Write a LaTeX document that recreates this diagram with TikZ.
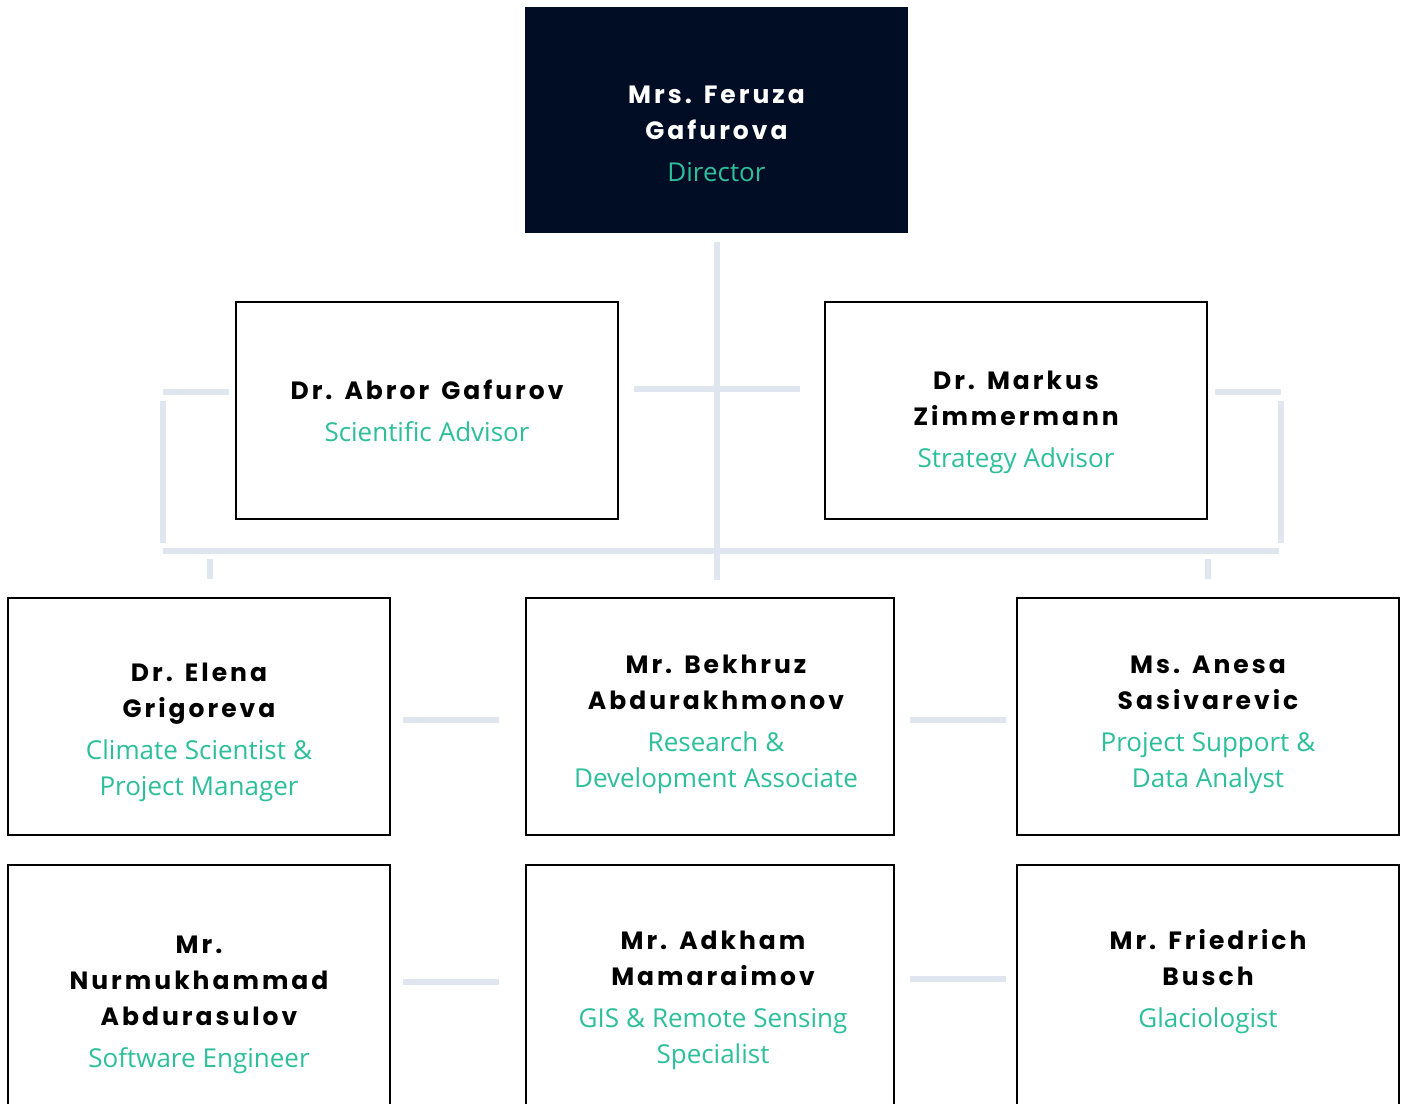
\documentclass[tikz,border=0pt]{standalone}
\usepackage{fontspec}
\setmainfont{Poppins}
\newfontfamily\namefont{Poppins}[LetterSpace=12]
\newfontfamily\rolefont{Open Sans}
\usetikzlibrary{positioning, calc}
\definecolor{navy}{HTML}{000D24}
\definecolor{teal}{HTML}{2DBF9B}
\definecolor{linkgray}{HTML}{DFE6EF}
% name, then role
\newcommand{\who}[2]{\frenchspacing{\namefont\bfseries\fontsize{25}{36}\selectfont\spaceskip=12pt\relax #1\par}\vspace{6pt}{\rolefont\fontsize{26}{36}\selectfont\spaceskip=7pt\relax\color{teal}#2\par}}
\tikzset{
  person/.style={draw=black, line width=2pt, fill=white, minimum width=#1, minimum height=237, inner sep=0pt},
  head/.style={fill=navy, minimum width=383, minimum height=226, inner sep=0pt},
  tag/.style={text width=360, align=center, inner sep=0pt},
  link/.style={draw=linkgray, line width=6pt, line cap=butt},
}

\begin{document}
\begin{tikzpicture}[x=1pt, y=-1pt]
    \useasboundingbox (0,0) rectangle (1405,1103);
    \clip (0,0) rectangle (1405,1103);
    % top
    \node[head] (dir) at (716.5,120) {};
    % advisors
    \node[person=382, minimum height=217] (abror) at (427,410.5) {};
    \node[person=382, minimum height=217] (markus) at (1016,410.5) {};
    % team, first row
    \node[person=382] (elena) at (199,716.5) {};
    \node[person=368] (bekhruz) at (710,716.5) {};
    \node[person=382] (anesa) at (1208,716.5) {};
    % team, second row
    \node[person=382, minimum height=241] (nurm) at (199,985.5) {};
    \node[person=368, minimum height=241] (adkham) at (710,985.5) {};
    \node[person=382, minimum height=241] (friedrich) at (1208,985.5) {};

    % texts
    \node[tag, text=white] (dir-t) at ($(dir)+(0,14)$) {\who{Mrs. Feruza\par Gafurova}{Director}};
    \node[tag] (abror-t) at (abror) {\who{Dr. Abror Gafurov}{Scientific Advisor}};
    \node[tag] (markus-t) at ($(markus)+(0,12)$) {\who{Dr. Markus\par Zimmermann}{Strategy Advisor}};
    \node[tag] (elena-t) at ($(elena)+(0,16)$) {\who{Dr. Elena\par Grigoreva}{Climate Scientist \&\par Project Manager}};
    \node[tag] (bekhruz-t) at ($(bekhruz)+(6,8)$) {\who{Mr. Bekhruz\par Abdurakhmonov}{Research \&\par Development Associate}};
    \node[tag] (anesa-t) at ($(anesa)+(0,8)$) {\who{Ms. Anesa\par Sasivarevic}{Project Support \&\par Data Analyst}};
    \node[tag] (nurm-t) at ($(nurm)+(0,19)$) {\who{Mr.\par Nurmukhammad\par Abdurasulov}{Software Engineer}};
    \node[tag] (adkham-t) at ($(adkham)+(3,15)$) {\who{Mr. Adkham\par Mamaraimov}{GIS \& Remote Sensing\par Specialist}};
    \node[tag] (friedrich-t) at ($(friedrich)+(0,-4)$) {\who{Mr. Friedrich\par Busch}{Glaciologist}};

    % connectors
    \draw[link] ($(dir.south)+(0,9)$) -- ($(dir.south)+(0,347)$);
    \draw[link] ($(abror.east)+(15,-21.5)$) -- ($(markus.west)+(-24,-21.5)$);
    \draw[link] ($(abror.west)+(-6,-18.5)$) -- ($(abror.west)+(-72,-18.5)$);
    \draw[link] ($(abror.west)+(-72,-9.5)$) -- ($(abror.west)+(-72,132.5)$);
    \draw[link] ($(markus.east)+(7,-18.5)$) -- ($(markus.east)+(73,-18.5)$);
    \draw[link] ($(markus.east)+(73,-9.5)$) -- ($(markus.east)+(73,132.5)$);
    \draw[link] ($(abror.west)+(-72,140.5)$) -- ($(markus.east)+(71,140.5)$);
    \draw[link] ($(elena.north)+(11,-38)$) -- ($(elena.north)+(11,-18)$);
    \draw[link] ($(anesa.north)+(0,-38)$) -- ($(anesa.north)+(0,-18)$);
    \draw[link] ($(elena.east)+(12,3.5)$) -- ($(bekhruz.west)+(-26,3.5)$);
    \draw[link] ($(bekhruz.east)+(15,3.5)$) -- ($(anesa.west)+(-10,3.5)$);
    \draw[link] ($(nurm.east)+(12,-3.5)$) -- ($(adkham.west)+(-26,-3.5)$);
    \draw[link] ($(adkham.east)+(15,-6.5)$) -- ($(friedrich.west)+(-10,-6.5)$);
\end{tikzpicture}
\end{document}
